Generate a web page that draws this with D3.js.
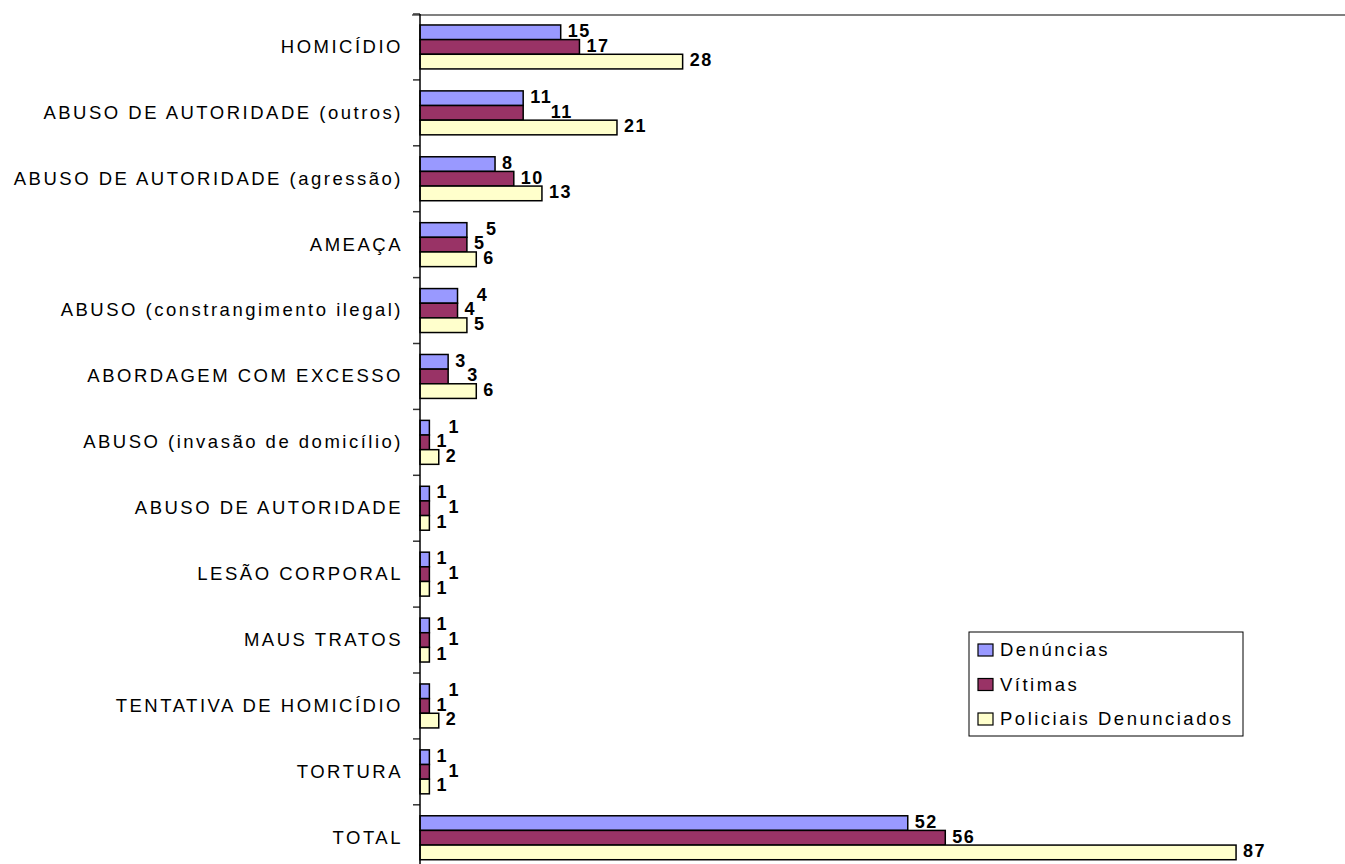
<!DOCTYPE html>
<html>
<head>
<meta charset="utf-8">
<script src="https://cdn.jsdelivr.net/npm/d3@7"></script>
<style>
  html, body { margin: 0; padding: 0; background: #fff; }
  svg { display: block; }
</style>
</head>
<body>
<svg id="chart" width="1345" height="864"></svg>
<script>
const categories = [
  "HOMICÍDIO",
  "ABUSO DE AUTORIDADE (outros)",
  "ABUSO DE AUTORIDADE (agressão)",
  "AMEAÇA",
  "ABUSO (constrangimento ilegal)",
  "ABORDAGEM COM EXCESSO",
  "ABUSO (invasão de domicílio)",
  "ABUSO DE AUTORIDADE",
  "LESÃO CORPORAL",
  "MAUS TRATOS",
  "TENTATIVA DE HOMICÍDIO",
  "TORTURA",
  "TOTAL"
];
const seriesNames = ["Denúncias", "Vítimas", "Policiais Denunciados"];
const denuncias = [15, 11, 8, 5, 4, 3, 1, 1, 1, 1, 1, 1, 52];
const vitimas   = [17, 11, 10, 5, 4, 3, 1, 1, 1, 1, 1, 1, 56];
const policiais = [28, 21, 13, 6, 5, 6, 2, 1, 1, 1, 2, 1, 87];
const colors = ["#9999FF", "#993366", "#FFFFCC"];

const seriesValues = [denuncias, vitimas, policiais];

const svg = d3.select("#chart");
const plotLeft = 420, plotTop = 15;
const step = 65.9;
const FONT = "Liberation Sans, Arial, sans-serif";

const x = d3.scaleLinear().domain([0, 100]).range([plotLeft, plotLeft + 938]);
const y = d3.scaleBand().domain(categories)
  .range([plotTop - 1, plotTop - 1 + step * categories.length])
  .paddingInner(0.333).paddingOuter(0.1665);
const y1 = d3.scaleBand().domain(seriesNames).range([0, y.bandwidth()]).padding(0);

// top border of plot area
svg.append("line")
  .attr("x1", plotLeft - 8).attr("x2", 1345)
  .attr("y1", plotTop).attr("y2", plotTop)
  .attr("stroke", "#808080").attr("stroke-width", 2);

// bars
const groups = svg.append("g").selectAll("g")
  .data(categories)
  .join("g")
  .attr("transform", d => `translate(0,${y(d)})`);

groups.each(function(cat, ci) {
  const g = d3.select(this);
  seriesNames.forEach((s, si) => {
    const v = seriesValues[si][ci];
    g.append("rect")
      .attr("x", x(0))
      .attr("y", y1(s))
      .attr("width", x(v) - x(0))
      .attr("height", y1.bandwidth())
      .attr("fill", colors[si])
      .attr("stroke", "#000")
      .attr("stroke-width", 1.5);
  });
  // value labels
  const labels = seriesNames.map((s, si) => {
    const v = seriesValues[si][ci];
    const t = g.append("text")
      .attr("y", y1(s) + y1.bandwidth() - 2.5)
      .attr("font-family", FONT)
      .attr("font-weight", "bold")
      .attr("font-size", 18)
      .attr("letter-spacing", 1.5)
      .attr("fill", "#000")
      .text(v);
    return { t, x: x(v) + 7, w: t.node().getComputedTextLength(), shifted: false };
  });
  // stagger labels that would sit exactly over their neighbour
  const clash = (a, b) => a.x < b.x + b.w - 1 && b.x < a.x + a.w - 1;
  for (let i = 1; i < labels.length; i++) {
    const a = labels[i - 1], b = labels[i];
    if (a.shifted || Math.abs(a.x - b.x) >= 3) continue;
    const d = 0.8 * b.w + 3;
    const next = labels[i + 1];
    const prev = labels[i - 2];
    const bTry = { x: b.x + d, w: b.w };
    if (!next || !clash(bTry, next)) {
      b.x += d; b.shifted = true;
    } else {
      const aTry = { x: a.x + d, w: a.w };
      if (!prev || !clash(aTry, prev)) { a.x += d; a.shifted = true; }
      else { b.x += d; b.shifted = true; }
    }
  }
  labels.forEach(l => l.t.attr("x", l.x));
});

// y axis
const axis = d3.axisLeft(y).tickSize(0).tickFormat(d => d);
const ax = svg.append("g").attr("transform", `translate(${plotLeft},0)`).call(axis);
ax.select(".domain").remove();
ax.selectAll("text")
  .attr("x", -17)
  .attr("font-family", FONT)
  .attr("font-size", 18.5)
  .attr("letter-spacing", 2.5)
  .attr("fill", "#000");

// tick marks at category boundaries
const boundaries = categories.map(c => y(c) - y.step() * y.paddingInner() / 2);
svg.append("g").selectAll("line")
  .data(boundaries)
  .join("line")
  .attr("x1", plotLeft - 7).attr("x2", plotLeft)
  .attr("y1", d => d).attr("y2", d => d)
  .attr("stroke", "#333").attr("stroke-width", 1.5);

svg.append("line")
  .attr("x1", plotLeft).attr("x2", plotLeft)
  .attr("y1", plotTop - 1).attr("y2", 864)
  .attr("stroke", "#000").attr("stroke-width", 1.5);

// legend
const lg = svg.append("g").attr("transform", "translate(969,632)");
lg.append("rect")
  .attr("width", 274).attr("height", 104)
  .attr("fill", "#fff").attr("stroke", "#000").attr("stroke-width", 1);
seriesNames.forEach((s, i) => {
  const cy = 18 + i * 34.5;
  lg.append("rect")
    .attr("x", 9).attr("y", cy - 6)
    .attr("width", 15).attr("height", 12)
    .attr("fill", colors[i]).attr("stroke", "#000").attr("stroke-width", 1.2);
  lg.append("text")
    .attr("x", 31).attr("y", cy)
    .attr("dy", "0.35em")
    .attr("font-family", FONT)
    .attr("font-size", 18.5)
    .attr("letter-spacing", 2.5)
    .attr("fill", "#000")
    .text(s);
});
</script>
</body>
</html>
